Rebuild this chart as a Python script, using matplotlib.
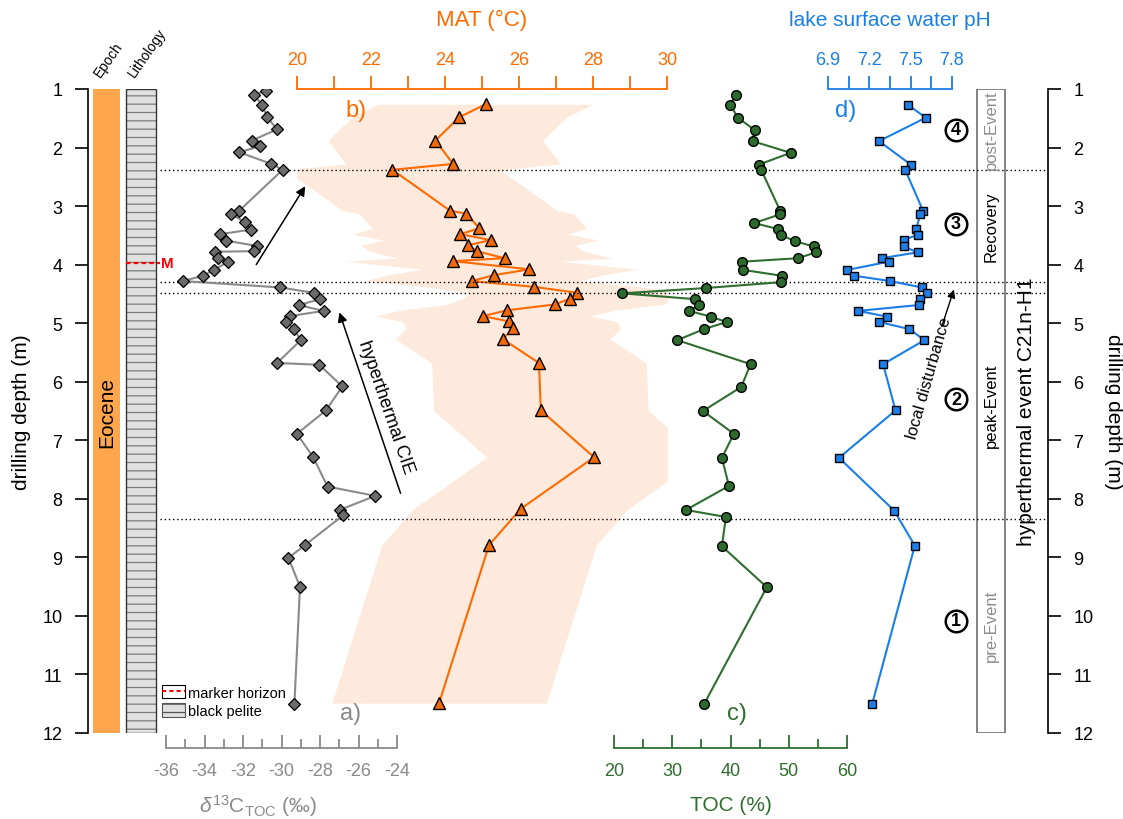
import matplotlib
matplotlib.use("Agg")
import matplotlib.pyplot as plt
from matplotlib.patches import Rectangle, Patch
from matplotlib.lines import Line2D
from matplotlib.ticker import MultipleLocator

plt.rcParams['font.family'] = ['Liberation Sans', 'DejaVu Sans']
plt.rcParams['axes.unicode_minus'] = False
plt.rcParams['mathtext.fontset'] = 'custom'
plt.rcParams['mathtext.rm'] = 'Liberation Sans'
plt.rcParams['mathtext.it'] = 'Liberation Sans:italic'
plt.rcParams['hatch.linewidth'] = 0.9

# a) carbon isotopes of TOC
d13c_depth = [1.03, 1.10, 1.27, 1.48, 1.69, 1.88, 1.98, 2.08, 2.28, 2.38,
              3.08, 3.13, 3.28, 3.40, 3.48, 3.59, 3.68, 3.77, 3.78, 3.89,
              3.95, 4.09, 4.19, 4.28, 4.39, 4.48, 4.59, 4.69, 4.79, 4.88,
              4.98, 5.10, 5.29, 5.68, 5.71, 6.08, 6.49, 6.89, 7.29, 7.79,
              7.95, 8.19, 8.28, 8.79, 9.01, 9.50, 11.51]
d13c = [-30.82, -31.44, -31.01, -30.75, -30.23, -31.54, -31.13, -32.20, -30.52, -29.94,
        -32.20, -32.63, -31.89, -31.58, -33.17, -32.89, -31.28, -31.44, -33.46, -33.29,
        -32.77, -33.51, -34.07, -35.13, -30.07, -28.33, -27.98, -29.11, -27.81, -29.58,
        -29.75, -29.35, -29.00, -30.23, -28.04, -26.84, -27.69, -29.20, -28.35, -27.61,
        -25.13, -26.98, -26.79, -28.78, -29.64, -29.04, -29.33]

# b) mean annual temperature
mat_depth = [1.26, 1.48, 1.88, 2.28, 2.38, 3.08, 3.13, 3.38, 3.48, 3.58,
             3.67, 3.77, 3.89, 3.94, 4.08, 4.18, 4.28, 4.38, 4.48, 4.58,
             4.68, 4.78, 4.88, 4.97, 5.09, 5.27, 5.68, 6.49, 7.29, 8.17,
             8.79, 11.49]
mat = [25.10, 24.39, 23.74, 24.22, 22.58, 24.14, 24.58, 24.93, 24.41, 25.24,
       24.61, 24.86, 25.61, 24.22, 26.28, 25.32, 24.72, 26.41, 27.57, 27.38,
       26.97, 25.68, 25.02, 25.74, 25.85, 25.56, 26.54, 26.59, 28.03, 26.05,
       25.19, 23.84]
mat_err = 2.9

# c) total organic carbon
toc_depth = [1.10, 1.27, 1.49, 1.70, 1.89, 2.09, 2.29, 2.38, 3.08, 3.14,
             3.29, 3.39, 3.49, 3.60, 3.69, 3.79, 3.89, 3.95, 4.09, 4.19,
             4.30, 4.40, 4.49, 4.59, 4.69, 4.79, 4.89, 4.98, 5.10, 5.29,
             5.70, 6.09, 6.50, 6.89, 7.30, 7.78, 8.19, 8.31, 8.81, 9.51,
             11.51]
toc = [40.87, 39.95, 41.27, 44.13, 43.79, 50.31, 44.92, 45.27, 48.53, 48.53,
       44.07, 48.08, 48.64, 51.05, 54.31, 54.60, 51.65, 42.01, 42.18, 48.82,
       48.64, 35.73, 21.41, 33.95, 34.58, 32.90, 36.67, 39.33, 35.49, 30.86,
       43.45, 41.84, 35.27, 40.58, 38.52, 39.73, 32.35, 39.21, 38.52, 46.24,
       35.44]

# d) lake surface water pH
ph_depth = [1.27, 1.49, 1.89, 2.29, 2.38, 3.08, 3.14, 3.39, 3.49, 3.58,
            3.69, 3.79, 3.89, 3.95, 4.09, 4.19, 4.28, 4.39, 4.48, 4.59,
            4.69, 4.79, 4.89, 4.98, 5.10, 5.29, 5.70, 6.49, 7.30, 8.20,
            8.80, 11.51]
ph = [7.48, 7.61, 7.27, 7.50, 7.46, 7.59, 7.57, 7.54, 7.55, 7.45,
      7.45, 7.55, 7.29, 7.34, 7.04, 7.09, 7.35, 7.58, 7.62, 7.57,
      7.56, 7.12, 7.33, 7.27, 7.49, 7.60, 7.30, 7.39, 6.98, 7.38,
      7.53, 7.22]

event_bounds = [2.38, 4.29, 4.48, 8.34]
phase_names = ['post-Event', 'Recovery', 'peak-Event', 'pre-Event']
phase_mid = [1.69, 3.33, 6.40, 10.15]
phase_colors = ['#8c8c8c', 'black', 'black', '#8c8c8c']
phase_nums = ['4', '3', '2', '1']
phase_num_depth = [1.70, 3.30, 6.30, 10.08]
marker_depth = 3.97

W, H = 1123, 820
TOP, BOT = 90, 734

GREY = '#8a8a8a'
ORANGE = '#ff6a00'
GREEN = '#2f6e2f'
BLUE = '#1a7ee8'

fig = plt.figure(figsize=(W / 100, H / 100), dpi=100)


def add_track(x0, x1, z):
    ax = fig.add_axes([x0 / W, 1 - BOT / H, (x1 - x0) / W, (BOT - TOP) / H])
    ax.set_ylim(12, 1)
    ax.set_facecolor('none')
    ax.set_zorder(z)
    for s in ax.spines.values():
        s.set_visible(False)
    ax.tick_params(left=False, labelleft=False, bottom=False, labelbottom=False)
    return ax


def ftext(x, y, s, **kw):
    fig.text(x / W, 1 - y / H, s, **kw)


# depth frame
ax = add_track(88, 1048, 2)
ax.set_xlim(0, 1)
ax.set_xticks([])
ax.spines['left'].set_visible(True)
ax.spines['right'].set_visible(True)
ax.spines['left'].set_linewidth(1.2)
ax.spines['right'].set_linewidth(1.2)
ax.set_yticks(range(1, 13))
ax.tick_params(axis='y', left=True, right=True, labelleft=True, labelright=True,
               direction='out', length=9.4, width=1.2, labelsize=13, pad=9)


def afx(px):
    return (px - 88) / 960


ytr = ax.get_yaxis_transform()
ax.add_patch(Rectangle((afx(93), 1), afx(120) - afx(93), 11, transform=ytr,
                       facecolor='#ffa64d', edgecolor='none'))
ax.add_patch(Rectangle((afx(126), 1), afx(156) - afx(126), 11, transform=ytr,
                       facecolor='#e0e0e0', edgecolor='#7a7a7a', hatch='--', lw=0))
ax.add_patch(Rectangle((afx(126), 1), afx(156) - afx(126), 11, transform=ytr,
                       facecolor='none', edgecolor='#333333', lw=1))
ax.plot([afx(126), afx(160)], [marker_depth, marker_depth], transform=ytr,
        color='red', ls=(0, (2, 1.5)), lw=1.6, clip_on=False)
ax.text(afx(161), marker_depth, 'M', transform=ytr, color='red', fontsize=11,
        fontweight='bold', va='center', ha='left')
ax.text(afx(106.5), 6.5, 'Eocene', transform=ytr, rotation=90, fontsize=15,
        ha='center', va='center')

for d in event_bounds:
    ax.axhline(d, xmin=afx(160), xmax=1, color='black', ls=(0, (1, 2)), lw=1)

ax.add_patch(Rectangle((afx(977), 1), afx(1005) - afx(977), 11, transform=ytr,
                       facecolor='none', edgecolor='#6e6e6e', lw=1.2))
for name, d, c in zip(phase_names, phase_mid, phase_colors):
    ax.text(afx(991), d, name, transform=ytr, rotation=90, fontsize=12,
            color=c, ha='center', va='center')
ax.plot([afx(956)] * len(phase_num_depth), phase_num_depth, transform=ytr,
        ls='none', marker='o', ms=15.5, mfc='white', mec='black', mew=1.8)
for num, d in zip(phase_nums, phase_num_depth):
    ax.text(afx(956), d, num, transform=ytr, fontsize=13, fontweight='bold',
            ha='center', va='center')
ax.text(afx(1026), 6.5, 'hyperthermal event C21n-H1', transform=ytr,
        rotation=90, fontsize=15, ha='center', va='center')

# b) MAT with error band
ax_mat = add_track(297, 667, 1)
ax_mat.set_xlim(20, 30)
ax_mat.fill_betweenx(mat_depth, [m - mat_err for m in mat], [m + mat_err for m in mat],
                     color='#fdeadc', lw=0, zorder=0)
ax_mat.plot(mat, mat_depth, color=ORANGE, lw=1.5, marker='^', ms=8,
            mfc='#f06a0c', mec='black', mew=1, zorder=3)
ax_mat.spines['top'].set_visible(True)
ax_mat.spines['top'].set_color(ORANGE)
ax_mat.spines['top'].set_linewidth(1.3)
ax_mat.xaxis.tick_top()
ax_mat.set_xticks(range(20, 31, 2))
ax_mat.xaxis.set_minor_locator(MultipleLocator(1))
ax_mat.tick_params(axis='x', which='both', top=True, labeltop=True, direction='out',
                   length=9.4, width=1.3, color=ORANGE, labelcolor=ORANGE,
                   labelsize=13, pad=6)
ax_mat.text(21.6, 1.36, 'b)', color=ORANGE, fontsize=17, ha='center', va='center')

# a) d13C
ax_c = add_track(166, 397, 3)
ax_c.set_xlim(-36, -24)
ax_c.plot(d13c, d13c_depth, color=GREY, lw=1.5, marker='D', ms=6.5,
          mfc='#6b6b6b', mec='black', mew=0.9, zorder=3)
ax_c.spines['bottom'].set_visible(True)
ax_c.spines['bottom'].set_position(('outward', 11))
ax_c.spines['bottom'].set_color(GREY)
ax_c.spines['bottom'].set_linewidth(1.3)
ax_c.set_xticks(range(-36, -23, 2))
ax_c.xaxis.set_minor_locator(MultipleLocator(1))
ax_c.tick_params(axis='x', which='major', bottom=True, labelbottom=True,
                 direction='in', length=9.4, width=1.3, color=GREY,
                 labelcolor=GREY, labelsize=13, pad=10)
ax_c.tick_params(axis='x', which='minor', bottom=True, direction='in',
                 length=6.5, width=1.3, color=GREY)
ax_c.text(-26.4, 11.66, 'a)', color=GREY, fontsize=17, ha='center', va='center')
ax_c.annotate('', xy=(-28.69, 2.62), xytext=(-31.39, 4.04),
              arrowprops=dict(arrowstyle='-|>', color='black', lw=1.1, mutation_scale=14))
ax_c.annotate('', xy=(-27.04, 4.77), xytext=(-23.77, 7.95), annotation_clip=False,
              arrowprops=dict(arrowstyle='-|>', color='black', lw=1.1, mutation_scale=14))
ax_c.text(-24.6, 6.43, 'hyperthermal CIE', rotation=-71, fontsize=13,
          ha='center', va='center', clip_on=False)

leg_handles = [(Patch(facecolor='white', edgecolor='black', lw=0.8),
                Line2D([], [], color='red', ls=(0, (2, 1.5)), lw=1.5)),
               Patch(facecolor='#e0e0e0', edgecolor='#555555', hatch='--', lw=0.8)]
ax_c.legend(leg_handles, ['marker horizon', 'black pelite'], loc='lower left',
            bbox_to_anchor=(162 / W, 1 - 719 / H), bbox_transform=fig.transFigure,
            frameon=False, fontsize=10.5, handlelength=1.6, handleheight=1.0,
            handletextpad=0.15, labelspacing=0.25, borderpad=0, borderaxespad=0)

# c) TOC
ax_t = add_track(614, 847, 3)
ax_t.set_xlim(20, 60)
ax_t.plot(toc, toc_depth, color=GREEN, lw=1.5, marker='o', ms=7,
          mfc='#2d6a2d', mec='black', mew=1, zorder=3)
ax_t.spines['bottom'].set_visible(True)
ax_t.spines['bottom'].set_position(('outward', 11))
ax_t.spines['bottom'].set_color(GREEN)
ax_t.spines['bottom'].set_linewidth(1.3)
ax_t.set_xticks(range(20, 61, 10))
ax_t.xaxis.set_minor_locator(MultipleLocator(5))
ax_t.tick_params(axis='x', which='major', bottom=True, labelbottom=True,
                 direction='in', length=9.4, width=1.3, color=GREEN,
                 labelcolor=GREEN, labelsize=13, pad=10)
ax_t.tick_params(axis='x', which='minor', bottom=True, direction='in',
                 length=6.5, width=1.3, color=GREEN)
ax_t.text(41.1, 11.66, 'c)', color=GREEN, fontsize=17, ha='center', va='center')

# d) pH
ax_p = add_track(828, 952, 3)
ax_p.set_xlim(6.9, 7.8)
ax_p.plot(ph, ph_depth, color=BLUE, lw=1.5, marker='s', ms=6,
          mfc='#1f7fe8', mec='black', mew=1, zorder=3)
ax_p.spines['top'].set_visible(True)
ax_p.spines['top'].set_color(BLUE)
ax_p.spines['top'].set_linewidth(1.3)
ax_p.xaxis.tick_top()
ax_p.set_xticks([6.9, 7.2, 7.5, 7.8])
ax_p.set_xticklabels(['6.9', '7.2', '7.5', '7.8'])
ax_p.xaxis.set_minor_locator(MultipleLocator(0.15))
ax_p.tick_params(axis='x', which='both', top=True, labeltop=True, direction='out',
                 length=9.4, width=1.3, color=BLUE, labelcolor=BLUE,
                 labelsize=13, pad=6)
ax_p.text(7.03, 1.36, 'd)', color=BLUE, fontsize=17, ha='center', va='center')
ax_p.annotate('', xy=(7.82, 4.38), xytext=(7.72, 5.10), annotation_clip=False,
              arrowprops=dict(arrowstyle='-|>', color='black', lw=1.0, mutation_scale=12))
ax_p.text(7.63, 5.92, 'local disturbance', rotation=74, fontsize=12,
          ha='center', va='center', clip_on=False)

# axis titles and column headers
ftext(482, 20, 'MAT (°C)', color=ORANGE, fontsize=16, ha='center', va='center')
ftext(890, 20, 'lake surface water pH', color=BLUE, fontsize=15, ha='center', va='center')
ftext(258, 806, r'$\delta^{13}$C$_{\mathrm{TOC}}$ (‰)', color=GREY, fontsize=15,
      ha='center', va='center')
ftext(731, 806, 'TOC (%)', color=GREEN, fontsize=15, ha='center', va='center')
ftext(22, 412, 'drilling depth (m)', rotation=90, fontsize=15, ha='center', va='center')
ftext(1113, 412, 'drilling depth (m)', rotation=270, fontsize=15, ha='center', va='center')
ftext(103, 80, 'Epoch', rotation=55, fontsize=10, ha='left', va='bottom',
      rotation_mode='anchor')
ftext(137, 80, 'Lithology', rotation=55, fontsize=10, ha='left', va='bottom',
      rotation_mode='anchor')

fig.savefig('out.png', dpi=100)
